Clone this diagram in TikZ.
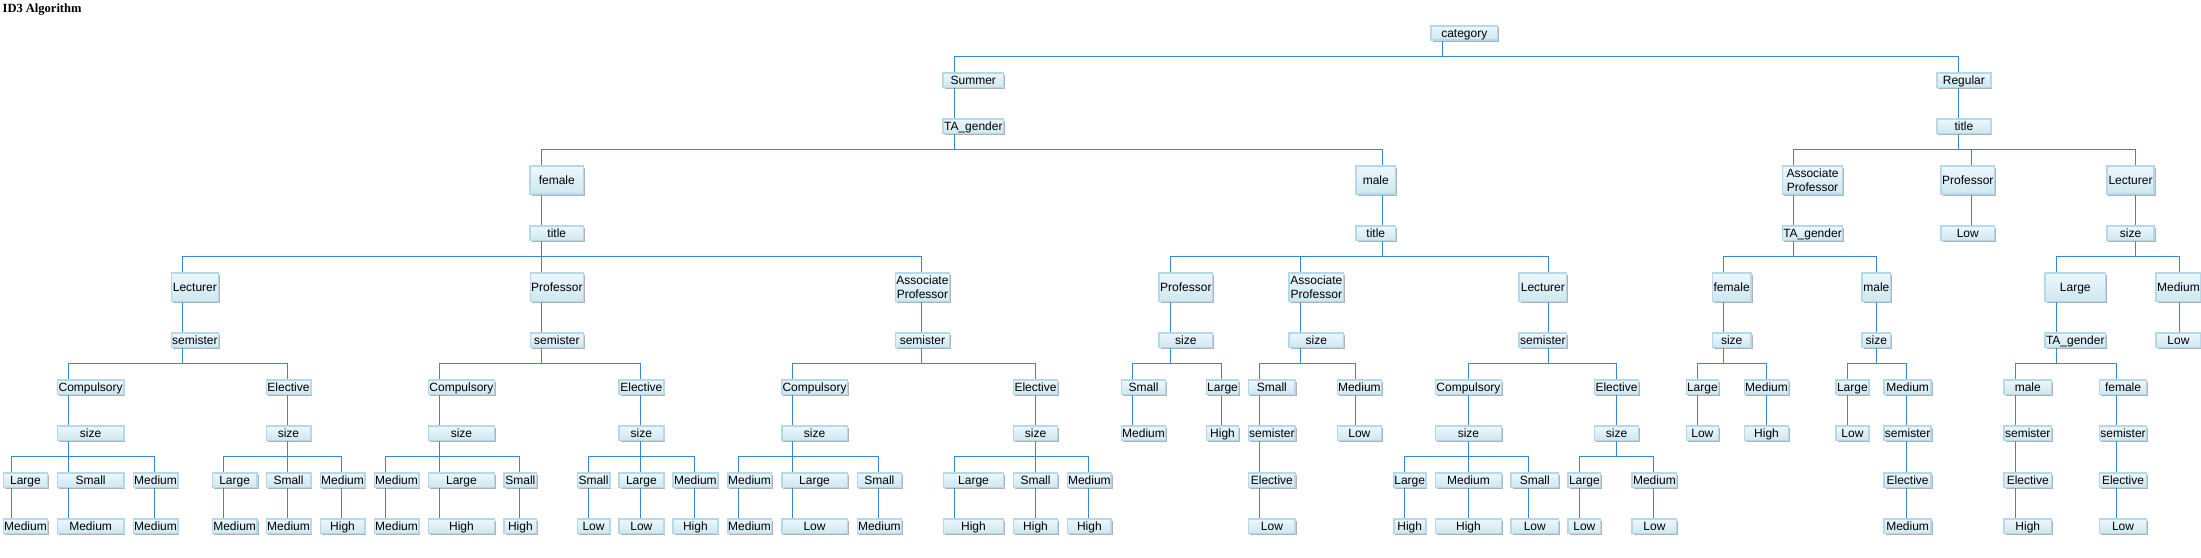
\documentclass[tikz,border=0pt]{standalone}
\usepackage{fontspec}
\setmainfont{Liberation Sans}
\newfontfamily\ttlfont{Liberation Serif}
\usetikzlibrary{shadows}
\definecolor{lineblue}{HTML}{3388DD}
\definecolor{boxtop}{HTML}{EDF7FF}
\definecolor{boxbot}{HTML}{CDE7EE}
\definecolor{boxborder}{HTML}{B5D9EA}
\tikzset{
  basebox/.style={draw=boxborder, line width=1.6pt, top color=boxtop, bottom color=boxbot,
    inner sep=0pt, font=\fontsize{12}{14}\selectfont,
    drop shadow={shadow xshift=1.5pt, shadow yshift=-1.5pt, opacity=0.3, fill=black}},
  box/.style={basebox, text height=8.6pt, text depth=0pt},
  tbox/.style={basebox, align=center},
  conn/.style={draw=lineblue, line width=1pt},
}
\newcommand\N[6]{\node[box,minimum width={#3-#2-1.6},minimum height={#5-1.6}] (#1) at ({(#2+#3)/2},{#4+#5/2}) {#6};}
\newcommand\T[6]{\node[tbox,minimum width={#3-#2-1.6},minimum height={#5-1.6}] (#1) at ({(#2+#3)/2},{#4+#5/2}) {#6};}
\newcommand\E[4]{\draw[conn] (#2,0 |- #1.south) -- ++(0,15) -| (#4,0 |- #3.north);}
\newcommand\V[3]{\draw[conn] (#3,0 |- #1.south) -- (#3,0 |- #2.north);}
\begin{document}
\begin{tikzpicture}[x=1pt,y=-1pt]
\useasboundingbox (0,0) rectangle (2201,557);
\node[anchor=base west, inner sep=0pt, font=\ttlfont\bfseries\fontsize{12.5}{14}\selectfont] (ttl) at (2.5,12.5) {ID3 Algorithm};
% R0-R2
\N{cat}{1430.2}{1498.3}{25}{16}{category}
\N{sum}{942.3}{1004.3}{72.3}{16}{Summer}
\N{reg}{1936.1}{1991.6}{72.3}{16}{Regular}
\N{tag}{942.3}{1004.3}{118.3}{16}{TA\_gender}
\N{rti}{1936.1}{1991.6}{118.3}{16}{title}
% R3
\N{fem}{529.3}{584.3}{165.3}{29.7}{female}
\N{mal}{1355.3}{1396.3}{165.3}{29.7}{male}
\T{rap}{1781.7}{1843.3}{165.3}{29.7}{Associate\\Professor}
\N{rpr}{1940.3}{1995.3}{165.3}{29.7}{Professor}
\N{rle}{2106}{2155}{165.3}{29.7}{Lecturer}
% R4
\N{fti}{529.3}{584.3}{225.3}{16}{title}
\N{mti}{1355.3}{1396.3}{225.3}{16}{title}
\N{rtg}{1781.7}{1843.3}{225.3}{16}{TA\_gender}
\N{rlo}{1940.3}{1995.3}{225.3}{16}{Low}
\N{rsz}{2106}{2155}{225.3}{16}{size}
% R5
\N{fL}{170.5}{219.2}{272.3}{30}{Lecturer}
\N{fP}{529.5}{584.2}{272.3}{30}{Professor}
\T{fA}{894.5}{950.4}{272.3}{30}{Associate\\Professor}
\N{mP}{1158.3}{1213.4}{272.3}{30}{Professor}
\T{mA}{1288.4}{1344.3}{272.3}{30}{Associate\\Professor}
\N{mL}{1518.4}{1567.3}{272.3}{30}{Lecturer}
\N{rf}{1711.5}{1751.8}{272.3}{30}{female}
\N{rm}{1861.4}{1891.3}{272.3}{30}{male}
\N{rLg}{2044.2}{2106.3}{272.3}{30}{Large}
\N{rMd}{2155.4}{2201.5}{272.3}{30}{Medium}
% R6
\N{fLs}{170.5}{219.2}{332.3}{16}{semister}
\N{fPs}{529.5}{584.2}{332.3}{16}{semister}
\N{fAs}{894.5}{950.4}{332.3}{16}{semister}
\N{mPs}{1158.3}{1213.4}{332.3}{16}{size}
\N{mAs}{1288.4}{1344.3}{332.3}{16}{size}
\N{mLs}{1518.4}{1567.3}{332.3}{16}{semister}
\N{rfs}{1711.5}{1751.8}{332.3}{16}{size}
\N{rms}{1861.4}{1891.3}{332.3}{16}{size}
\N{rLt}{2044.2}{2106.3}{332.3}{16}{TA\_gender}
\N{rMl}{2155.4}{2201.5}{332.3}{16}{Low}
% R7
\N{fLC}{56.8}{124.5}{379.3}{16}{Compulsory}
\N{fLE}{265.5}{311.5}{379.3}{16}{Elective}
\N{fPC}{427.6}{495.3}{379.3}{16}{Compulsory}
\N{fPE}{618.2}{664.5}{379.3}{16}{Elective}
\N{fAC}{780.9}{848.2}{379.3}{16}{Compulsory}
\N{fAE}{1012.7}{1058.3}{379.3}{16}{Elective}
\N{d1}{1120.8}{1166.3}{379.3}{16}{Small}
\N{d2}{1205.7}{1239.4}{379.3}{16}{Large}
\N{d3}{1247.8}{1296}{379.3}{16}{Small}
\N{d4}{1336.6}{1382.1}{379.3}{16}{Medium}
\N{mLC}{1434.6}{1502.3}{379.3}{16}{Compulsory}
\N{mLE}{1593.8}{1639.3}{379.3}{16}{Elective}
\N{g1}{1685.5}{1719.2}{379.3}{16}{Large}
\N{g2}{1743.7}{1789.3}{379.3}{16}{Medium}
\N{g3}{1835.3}{1869.5}{379.3}{16}{Large}
\N{g4}{1883.3}{1931.9}{379.3}{16}{Medium}
\N{h1}{2003.2}{2052.3}{379.3}{16}{male}
\N{h2}{2098.7}{2147.3}{379.3}{16}{female}
% R8
\N{fLCs}{56.8}{124.5}{425.3}{16}{size}
\N{fLEs}{265.5}{311.5}{425.3}{16}{size}
\N{fPCs}{427.6}{495.3}{425.3}{16}{size}
\N{fPEs}{618.2}{664.5}{425.3}{16}{size}
\N{fACs}{780.9}{848.2}{425.3}{16}{size}
\N{fAEs}{1012.7}{1058.3}{425.3}{16}{size}
\N{d1l}{1120.8}{1166.3}{425.3}{16}{Medium}
\N{d2l}{1205.7}{1239.4}{425.3}{16}{High}
\N{d3s}{1247.8}{1296}{425.3}{16}{semister}
\N{d4l}{1336.6}{1382.1}{425.3}{16}{Low}
\N{mLCs}{1434.6}{1502.3}{425.3}{16}{size}
\N{mLEs}{1593.8}{1639.3}{425.3}{16}{size}
\N{g1l}{1685.5}{1719.2}{425.3}{16}{Low}
\N{g2l}{1743.7}{1789.3}{425.3}{16}{High}
\N{g3l}{1835.3}{1869.5}{425.3}{16}{Low}
\N{g4s}{1883.3}{1931.9}{425.3}{16}{semister}
\N{h1s}{2003.2}{2052.3}{425.3}{16}{semister}
\N{h2s}{2098.7}{2147.3}{425.3}{16}{semister}
% R9
\N{a1}{2.5}{48.4}{472.3}{16}{Large}
\N{a2}{56.8}{124.5}{472.3}{16}{Small}
\N{a3}{132.6}{178.5}{472.3}{16}{Medium}
\N{a4}{211.5}{257.8}{472.3}{16}{Large}
\N{a5}{265.5}{311.5}{472.3}{16}{Small}
\N{a6}{319.6}{365.5}{472.3}{16}{Medium}
\N{b1}{373.6}{419.5}{472.3}{16}{Medium}
\N{b2}{427.6}{495.3}{472.3}{16}{Large}
\N{b3}{503.4}{537.4}{472.3}{16}{Small}
\N{b4}{576.5}{610.6}{472.3}{16}{Small}
\N{b5}{618.2}{664.5}{472.3}{16}{Large}
\N{b6}{672.2}{718.5}{472.3}{16}{Medium}
\N{c1}{726.9}{772.1}{472.3}{16}{Medium}
\N{c2}{780.9}{848.2}{472.3}{16}{Large}
\N{c3}{856.6}{902.2}{472.3}{16}{Small}
\N{c4}{942.7}{1004.3}{472.3}{16}{Large}
\N{c5}{1012.7}{1058.3}{472.3}{16}{Small}
\N{c6}{1066.7}{1112}{472.3}{16}{Medium}
\N{d3e}{1247.8}{1296}{472.3}{16}{Elective}
\N{e1}{1392.9}{1426.5}{472.3}{16}{Large}
\N{e2}{1434.6}{1502.3}{472.3}{16}{Medium}
\N{e3}{1510.3}{1559.3}{472.3}{16}{Small}
\N{e4}{1567.3}{1601.4}{472.3}{16}{Large}
\N{e5}{1631.4}{1677.4}{472.3}{16}{Medium}
\N{g4e}{1883.3}{1931.9}{472.3}{16}{Elective}
\N{h1e}{2003.2}{2052.3}{472.3}{16}{Elective}
\N{h2e}{2098.7}{2147.3}{472.3}{16}{Elective}
% R10
\N{a1l}{2.5}{48.4}{518.3}{16}{Medium}
\N{a2l}{56.8}{124.5}{518.3}{16}{Medium}
\N{a3l}{132.6}{178.5}{518.3}{16}{Medium}
\N{a4l}{211.5}{257.8}{518.3}{16}{Medium}
\N{a5l}{265.5}{311.5}{518.3}{16}{Medium}
\N{a6l}{319.6}{365.5}{518.3}{16}{High}
\N{b1l}{373.6}{419.5}{518.3}{16}{Medium}
\N{b2l}{427.6}{495.3}{518.3}{16}{High}
\N{b3l}{503.4}{537.4}{518.3}{16}{High}
\N{b4l}{576.5}{610.6}{518.3}{16}{Low}
\N{b5l}{618.2}{664.5}{518.3}{16}{Low}
\N{b6l}{672.2}{718.5}{518.3}{16}{High}
\N{c1l}{726.9}{772.1}{518.3}{16}{Medium}
\N{c2l}{780.9}{848.2}{518.3}{16}{Low}
\N{c3l}{856.6}{902.2}{518.3}{16}{Medium}
\N{c4l}{942.7}{1004.3}{518.3}{16}{High}
\N{c5l}{1012.7}{1058.3}{518.3}{16}{High}
\N{c6l}{1066.7}{1112}{518.3}{16}{High}
\N{d3l}{1247.8}{1296}{518.3}{16}{Low}
\N{e1l}{1392.9}{1426.5}{518.3}{16}{High}
\N{e2l}{1434.6}{1502.3}{518.3}{16}{High}
\N{e3l}{1510.3}{1559.3}{518.3}{16}{Low}
\N{e4l}{1567.3}{1601.4}{518.3}{16}{Low}
\N{e5l}{1631.4}{1677.4}{518.3}{16}{Low}
\N{g4l}{1883.3}{1931.9}{518.3}{16}{Medium}
\N{h1l}{2003.2}{2052.3}{518.3}{16}{High}
\N{h2l}{2098.7}{2147.3}{518.3}{16}{Low}
% connectors
\E{cat}{1442.1}{sum}{954.3}
\E{cat}{1442.1}{reg}{1958}
\V{sum}{tag}{954.3}
\V{reg}{rti}{1958}
\E{tag}{954.3}{fem}{541.3}
\E{tag}{954.3}{mal}{1382}
\E{rti}{1958}{rap}{1793.3}
\E{rti}{1958}{rpr}{1971.3}
\E{rti}{1958}{rle}{2135.7}
\V{fem}{fti}{541.3}
\V{mal}{mti}{1382}
\V{rap}{rtg}{1793.3}
\V{rpr}{rlo}{1971.3}
\V{rle}{rsz}{2135.7}
\E{fti}{541.3}{fL}{182.4}
\E{fti}{541.3}{fP}{541.3}
\E{fti}{541.3}{fA}{921.3}
\E{mti}{1382}{mP}{1170.5}
\E{mti}{1382}{mA}{1300.6}
\E{mti}{1382}{mL}{1548.2}
\E{rtg}{1793.3}{rf}{1723.4}
\E{rtg}{1793.3}{rm}{1876}
\E{rsz}{2135.7}{rLg}{2056.1}
\E{rsz}{2135.7}{rMd}{2179.1}
\V{fL}{fLs}{182.4}
\V{fP}{fPs}{541.3}
\V{fA}{fAs}{921.3}
\V{mP}{mPs}{1170.5}
\V{mA}{mAs}{1300.6}
\V{mL}{mLs}{1548.2}
\V{rf}{rfs}{1723.4}
\V{rm}{rms}{1876}
\V{rLg}{rLt}{2056.1}
\V{rMd}{rMl}{2179.1}
\E{fLs}{182.4}{fLC}{68.4}
\E{fLs}{182.4}{fLE}{287.6}
\E{fPs}{541.3}{fPC}{439.5}
\E{fPs}{541.3}{fPE}{640.4}
\E{fAs}{921.3}{fAC}{792.3}
\E{fAs}{921.3}{fAE}{1035}
\E{mPs}{1170.5}{d1}{1132.3}
\E{mPs}{1170.5}{d2}{1221}
\E{mAs}{1300.6}{d3}{1259.3}
\E{mAs}{1300.6}{d4}{1355}
\E{mLs}{1548.2}{mLC}{1468.2}
\E{mLs}{1548.2}{mLE}{1616.3}
\E{rfs}{1723.4}{g1}{1697.4}
\E{rfs}{1723.4}{g2}{1766}
\E{rms}{1876}{g3}{1847.2}
\E{rms}{1876}{g4}{1906.2}
\E{rLt}{2056.1}{h1}{2015.5}
\E{rLt}{2056.1}{h2}{2116.3}
\V{fLC}{fLCs}{68.4}
\V{fLE}{fLEs}{287.6}
\V{fPC}{fPCs}{439.5}
\V{fPE}{fPEs}{640.4}
\V{fAC}{fACs}{792.3}
\V{fAE}{fAEs}{1035}
\V{d1}{d1l}{1132.3}
\V{d2}{d2l}{1221}
\V{d3}{d3s}{1259.3}
\V{d4}{d4l}{1355}
\V{mLC}{mLCs}{1468.2}
\V{mLE}{mLEs}{1616.3}
\V{g1}{g1l}{1697.4}
\V{g2}{g2l}{1766}
\V{g3}{g3l}{1847.2}
\V{g4}{g4s}{1906.2}
\V{h1}{h1s}{2015.5}
\V{h2}{h2s}{2116.3}
\E{fLCs}{68.4}{a1}{11.6}
\E{fLCs}{68.4}{a2}{68.4}
\E{fLCs}{68.4}{a3}{154.3}
\E{fLEs}{287.6}{a4}{223.4}
\E{fLEs}{287.6}{a5}{287.6}
\E{fLEs}{287.6}{a6}{341.3}
\E{fPCs}{439.5}{b1}{385.5}
\E{fPCs}{439.5}{b2}{439.5}
\E{fPCs}{439.5}{b3}{519.1}
\E{fPEs}{640.4}{b4}{588.8}
\E{fPEs}{640.4}{b5}{640.4}
\E{fPEs}{640.4}{b6}{694.4}
\E{fACs}{792.3}{c1}{738.8}
\E{fACs}{792.3}{c2}{792.3}
\E{fACs}{792.3}{c3}{878.8}
\E{fAEs}{1035}{c4}{954.2}
\E{fAEs}{1035}{c5}{1035}
\E{fAEs}{1035}{c6}{1088.1}
\E{mLCs}{1468.2}{e1}{1404.3}
\E{mLCs}{1468.2}{e2}{1468.2}
\E{mLCs}{1468.2}{e3}{1528.3}
\E{mLEs}{1616.3}{e4}{1579.2}
\E{mLEs}{1616.3}{e5}{1653.7}
\V{d3s}{d3e}{1259.3}
\V{g4s}{g4e}{1906.2}
\V{h1s}{h1e}{2015.5}
\V{h2s}{h2e}{2116.3}
\V{a1}{a1l}{11.6}
\V{a2}{a2l}{68.4}
\V{a3}{a3l}{154.3}
\V{a4}{a4l}{223.4}
\V{a5}{a5l}{287.6}
\V{a6}{a6l}{341.3}
\V{b1}{b1l}{385.5}
\V{b2}{b2l}{439.5}
\V{b3}{b3l}{519.1}
\V{b4}{b4l}{588.8}
\V{b5}{b5l}{640.4}
\V{b6}{b6l}{694.4}
\V{c1}{c1l}{738.8}
\V{c2}{c2l}{792.3}
\V{c3}{c3l}{878.8}
\V{c4}{c4l}{954.2}
\V{c5}{c5l}{1035}
\V{c6}{c6l}{1088.1}
\V{d3e}{d3l}{1259.3}
\V{e1}{e1l}{1404.3}
\V{e2}{e2l}{1468.2}
\V{e3}{e3l}{1528.3}
\V{e4}{e4l}{1579.2}
\V{e5}{e5l}{1653.7}
\V{g4e}{g4l}{1906.2}
\V{h1e}{h1l}{2015.5}
\V{h2e}{h2l}{2116.3}
\end{tikzpicture}
\end{document}
